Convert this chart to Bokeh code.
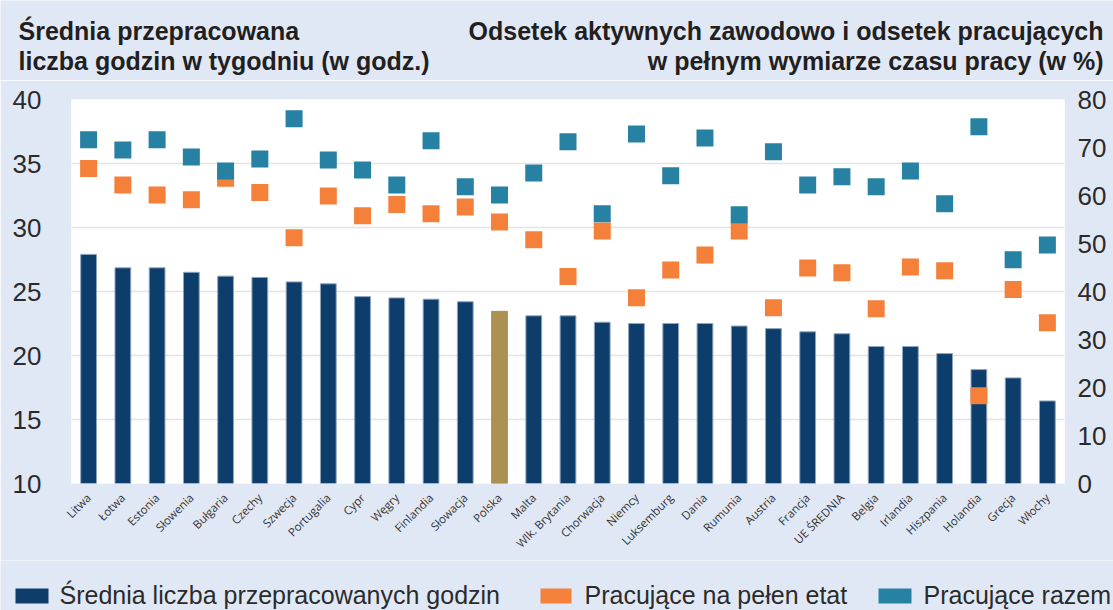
from math import pi
from bokeh.plotting import figure
from bokeh.models import ColumnDataSource, FactorRange, Range1d, LinearAxis, FixedTicker
from bokeh.embed import file_html
from bokeh.resources import INLINE
from bokeh.core.properties import value

# ---------------- data ----------------
countries = ["Litwa", "Łotwa", "Estonia", "Słowenia", "Bułgaria", "Czechy", "Szwecja",
             "Portugalia", "Cypr", "Węgry", "Finlandia", "Słowacja", "Polska", "Malta",
             "Wlk. Brytania", "Chorwacja", "Niemcy", "Luksemburg", "Dania", "Rumunia",
             "Austria", "Francja", "UE ŚREDNIA", "Belgia", "Irlandia", "Hiszpania",
             "Holandia", "Grecja", "Włochy"]
hours = [27.9, 26.85, 26.85, 26.5, 26.2, 26.1, 25.75, 25.6, 24.6, 24.5, 24.4, 24.2,
         23.45, 23.1, 23.1, 22.6, 22.5, 22.5, 22.5, 22.3, 22.1, 21.85, 21.7, 20.7,
         20.7, 20.15, 18.9, 18.25, 16.45]
full_time = [65.6, 62.2, 60.1, 59.1, 63.6, 60.6, 51.2, 59.9, 55.8, 58.1, 56.2, 57.6,
             54.5, 50.8, 43.1, 52.6, 38.7, 44.5, 47.6, 52.6, 36.6, 44.9, 43.9, 36.4,
             45.1, 44.3, 18.3, 40.4, 33.5]
total = [71.6, 69.5, 71.6, 68.0, 65.1, 67.6, 76.0, 67.4, 65.3, 62.2, 71.4, 61.8,
         60.1, 64.7, 71.2, 56.2, 72.8, 64.1, 72.0, 56.0, 69.1, 62.2, 63.9, 61.8,
         65.1, 58.3, 74.3, 46.6, 49.7]
left_ticks = [10, 15, 20, 25, 30, 35, 40]
right_ticks = [0, 10, 20, 30, 40, 50, 60, 70, 80]
title_left = ["Średnia przepracowana", "liczba godzin w tygodniu (w godz.)"]
title_right = ["Odsetek aktywnych zawodowo i odsetek pracujących",
               "w pełnym wymiarze czasu pracy (w %)"]
legend_labels = ["Średnia liczba przepracowanych godzin", "Pracujące na pełen etat",
                 "Pracujące razem"]
highlight = "Polska"

# ---------------- style ----------------
NAVY = "#0d3d6b"
GOLD = "#ab9152"
ORANGE = "#f4803a"
TEAL = "#2781a3"
BG = "#e1e8f5"
INK = "#231f20"
TXT = "#2b2b2b"
FONT = "Liberation Sans"

W = 1113
H_TITLE, H_MAIN, H_LEG = 80, 480, 50
MID = 8.7          # distance from text middle to baseline at 25px


def strip(height, top_page):
    """Figure whose data coordinates equal page pixel coordinates (y downwards)."""
    f = figure(width=W, height=height,
               x_range=Range1d(0, W), y_range=Range1d(top_page + height, top_page),
               output_backend="svg", toolbar_location=None, min_border=0,
               background_fill_color=BG, border_fill_color=BG, outline_line_color=None,
               x_axis_location=None, y_axis_location=None)
    f.grid.visible = False
    return f


# ---------------- title strip ----------------
t = strip(H_TITLE, 0)
title_mid = [39 - MID, 69 - MID]
t.text(x=[18, 18], y=title_mid, text=title_left, text_font=value(FONT),
       text_font_style="bold", text_font_size="25px", text_color=INK,
       text_baseline="middle", text_align="left")
t.text(x=[1103, 1103], y=title_mid, text=title_right, text_font=value(FONT),
       text_font_style="bold", text_font_size="25px", text_color=INK,
       text_baseline="middle", text_align="right")

# ---------------- main chart ----------------
src = ColumnDataSource(dict(
    country=countries, hours=hours, full=full_time, total=total,
    fill=[GOLD if c == highlight else NAVY for c in countries],
    line=[GOLD if c == highlight else "#8ea4bf" for c in countries],
))

p = figure(width=W, height=H_MAIN,
           x_range=FactorRange(*countries, range_padding=0),
           y_range=Range1d(left_ticks[0], left_ticks[-1]),
           output_backend="svg", toolbar_location=None,
           min_border_left=71, min_border_right=49, min_border_top=19, min_border_bottom=77,
           background_fill_color="white", border_fill_color=BG, outline_line_color=None)
p.extra_y_ranges = {"pct": Range1d(right_ticks[0], right_ticks[-1])}

p.vbar(x="country", top="hours", bottom=left_ticks[0], width=0.46, source=src,
       fill_color="fill", line_color="line", line_width=1)
p.scatter(x="country", y="full", y_range_name="pct", source=src, marker="square",
          size=17, fill_color=ORANGE, line_color=None)
p.scatter(x="country", y="total", y_range_name="pct", source=src, marker="square",
          size=17, fill_color=TEAL, line_color=None)

right_axis = LinearAxis(y_range_name="pct", ticker=FixedTicker(ticks=right_ticks))
p.add_layout(right_axis, "right")

p.yaxis[0].ticker = FixedTicker(ticks=left_ticks)
for ax in p.axis:
    ax.axis_line_color = None
    ax.major_tick_line_color = None
    ax.minor_tick_line_color = None
    ax.major_tick_out = 0
    ax.major_tick_in = 0
    ax.minor_tick_out = 0
    ax.minor_tick_in = 0
for ax in p.yaxis:
    ax.major_label_text_font = FONT
    ax.major_label_text_font_size = "26px"
    ax.major_label_text_color = TXT
p.yaxis[0].major_label_standoff = 30
right_axis.major_label_standoff = 13

xa = p.xaxis[0]
xa.major_label_orientation = pi / 4
xa.major_label_text_font = "Open Sans"
xa.major_label_text_font_size = "11.5px"
xa.major_label_text_color = "#333333"
xa.major_label_standoff = 12

p.xgrid.grid_line_color = None
p.ygrid.ticker = FixedTicker(ticks=left_ticks)
p.ygrid.grid_line_color = "#e4e4e4"
p.ygrid.grid_line_width = 1.5

# ---------------- legend strip ----------------
leg = strip(H_LEG, H_TITLE + H_MAIN)
sw_left = [15, 540, 878]
sw_right = [48, 571, 911]
leg_base = 603
leg.quad(left=sw_left, right=sw_right, top=[leg_base - 15] * 3, bottom=[leg_base] * 3,
         fill_color=[NAVY, ORANGE, TEAL], line_color=None)
leg.text(x=[59, 584, 923], y=[leg_base - MID] * 3, text=legend_labels,
         text_font=value(FONT), text_font_size="25px", text_baseline="middle",
         text_color=TXT)

open("out.html", "w").write(file_html([t, p, leg], INLINE))
